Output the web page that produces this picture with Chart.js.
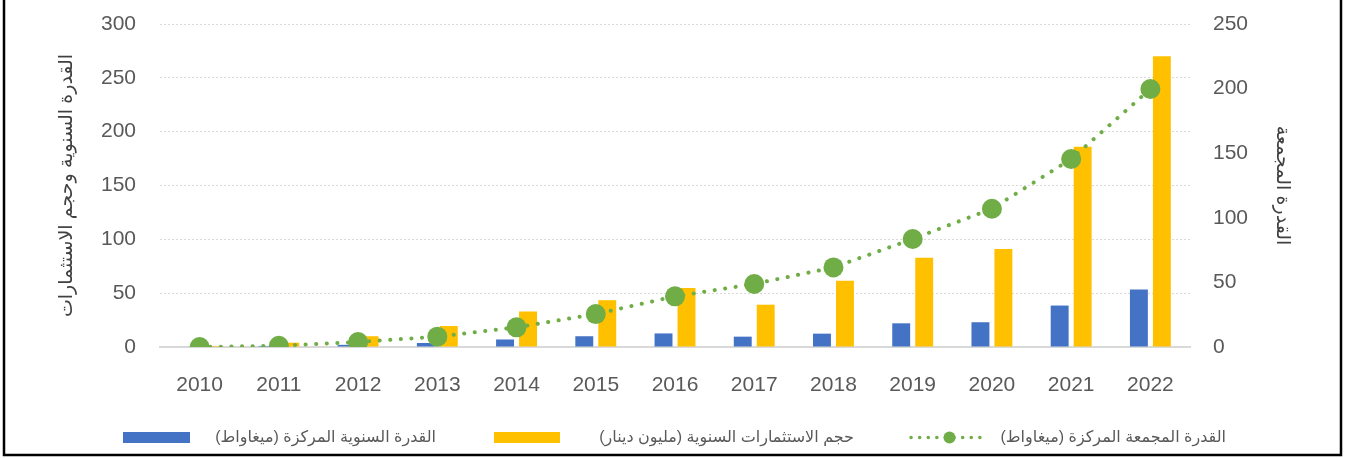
<!DOCTYPE html>
<html>
<head>
<meta charset="utf-8">
<script src="https://cdn.jsdelivr.net/npm/chart.js@4.4.1/dist/chart.umd.min.js"></script>
<style>
  html, body { margin: 0; padding: 0; background: #fff; }
  #wrap { position: relative; width: 1345px; height: 458px; }
</style>
</head>
<body>
<div id="wrap"><canvas id="grafico"></canvas></div>
<script>
// dados
const anos = ['2010', '2011', '2012', '2013', '2014', '2015', '2016', '2017', '2018', '2019', '2020', '2021', '2022'];
const capacidadeAnual = [0.5, 1, 2, 3.7, 7, 10, 12.6, 9.6, 12.4, 22, 23, 38.5, 53.5];
const investimentos = [1, 4, 10, 19.5, 33, 43.5, 54.8, 39.3, 61.6, 83, 91, 186, 270];
const capacidadeAcumulada = [0, 1, 3.9, 8, 15.2, 25.5, 39.2, 48.8, 61.6, 83.6, 107, 145.5, 199.7];

const rotulos = {
    anual: 'القدرة السنوية المركزة (ميغاواط)',
    invest: 'حجم الاستثمارات السنوية (مليون دينار)',
    acumulada: 'القدرة المجمعة المركزة (ميغاواط)',
    eixoEsq: 'القدرة السنوية وحجم الاستثمارات',
    eixoDir: 'القدرة المجمعة'
};
const ticksEsq = [0, 50, 100, 150, 200, 250, 300];
const ticksDir = [0, 50, 100, 150, 200, 250];

const azul = '#4472C4', amarelo = '#FFC000', verde = '#70AD47';
const fonte = 'Arial, "Liberation Sans", "DejaVu Sans", sans-serif';
const cinzaTexto = '#595959';

// legenda desenhada à mão (rtl, com amostra pontilhada da linha)
const legendaPlugin = {
    id: 'legenda',
    afterDraw(chart) {
        const ctx = chart.ctx;
        const y = 437.5;
        ctx.save();
        ctx.font = '16px ' + fonte;
        ctx.fillStyle = cinzaTexto;
        ctx.direction = 'rtl';
        ctx.textAlign = 'right';
        ctx.textBaseline = 'middle';

        // linha acumulada
        ctx.fillText(rotulos.acumulada, 1226, y);
        ctx.strokeStyle = verde;
        ctx.lineWidth = 3.5;
        ctx.lineCap = 'round';
        ctx.setLineDash([0.1, 8.5]);
        ctx.beginPath(); ctx.moveTo(911, y); ctx.lineTo(988, y); ctx.stroke();
        ctx.setLineDash([]);
        ctx.fillStyle = verde;
        ctx.beginPath(); ctx.arc(949.5, y, 6, 0, Math.PI * 2); ctx.fill();

        // investimentos
        ctx.fillStyle = cinzaTexto;
        ctx.fillText(rotulos.invest, 854, y);
        ctx.fillStyle = amarelo;
        ctx.fillRect(494, y - 5.5, 66, 11);

        // capacidade anual
        ctx.fillStyle = cinzaTexto;
        ctx.fillText(rotulos.anual, 436, y);
        ctx.fillStyle = azul;
        ctx.fillRect(123, y - 5.5, 67, 11);

        // moldura
        ctx.strokeStyle = '#000';
        ctx.lineWidth = 2.5;
        ctx.beginPath();
        ctx.moveTo(4, 0); ctx.lineTo(4, 455); ctx.lineTo(1341, 455); ctx.lineTo(1341, 0);
        ctx.stroke();
        ctx.restore();
    }
};

// eixos verticais sem folga extra em cima/embaixo
function ajustaEixoY(largura) {
    return function (scale) {
        scale.width = largura;
        scale.paddingTop = 0;
        scale.paddingBottom = 0;
    };
}

const ctx = document.getElementById('grafico').getContext('2d');
new Chart(ctx, {
    data: {
        labels: anos,
        datasets: [
            {
                type: 'line',
                label: rotulos.acumulada,
                data: capacidadeAcumulada,
                yAxisID: 'yDir',
                borderColor: verde,
                backgroundColor: verde,
                borderWidth: 4,
                borderDash: [0.1, 10.5],
                borderCapStyle: 'round',
                pointRadius: 10,
                pointHoverRadius: 10,
                pointBorderWidth: 0,
                tension: 0,
                order: 0
            },
            {
                type: 'bar',
                label: rotulos.anual,
                data: capacidadeAnual,
                yAxisID: 'yEsq',
                backgroundColor: azul,
                categoryPercentage: 0.58,
                barPercentage: 0.78,
                order: 1
            },
            {
                type: 'bar',
                label: rotulos.invest,
                data: investimentos,
                yAxisID: 'yEsq',
                backgroundColor: amarelo,
                categoryPercentage: 0.58,
                barPercentage: 0.78,
                order: 1
            }
        ]
    },
    options: {
        responsive: true,
        maintainAspectRatio: false,
        animation: false,
        layout: { padding: { top: 24, bottom: 61, left: 0, right: 0 } },
        plugins: {
            legend: { display: false },
            tooltip: { enabled: false }
        },
        scales: {
            x: {
                offset: true,
                grid: { display: false },
                border: { display: true, color: '#D9D9D9', width: 2 },
                ticks: { color: cinzaTexto, font: { family: fonte, size: 21 }, padding: 18, maxRotation: 0 },
                afterFit(scale) {
                    scale.height = 50;
                    scale.paddingLeft = 0;
                    scale.paddingRight = 0;
                }
            },
            yEsq: {
                position: 'left',
                min: 0, max: 300,
                afterBuildTicks(scale) { scale.ticks = ticksEsq.map(v => ({ value: v })); },
                grid: { color: '#D9D9D9', lineWidth: 1, drawTicks: false },
                border: { display: false, dash: [2, 2] },
                ticks: { color: cinzaTexto, font: { family: fonte, size: 21 }, padding: 24 },
                title: {
                    display: true, text: rotulos.eixoEsq, color: '#404040',
                    font: { family: fonte, size: 19 }, padding: { top: 55, bottom: 0 }
                },
                afterFit: ajustaEixoY(160)
            },
            yDir: {
                position: 'right',
                min: 0, max: 250,
                afterBuildTicks(scale) { scale.ticks = ticksDir.map(v => ({ value: v })); },
                grid: { display: false, drawTicks: false },
                border: { display: false },
                ticks: { color: cinzaTexto, font: { family: fonte, size: 21 }, padding: 23 },
                title: {
                    display: true, text: rotulos.eixoDir, color: '#404040',
                    font: { family: fonte, size: 19 }, padding: { top: 51, bottom: 0 }
                },
                afterFit: ajustaEixoY(155)
            }
        }
    },
    plugins: [legendaPlugin]
});
</script>
</body>
</html>
